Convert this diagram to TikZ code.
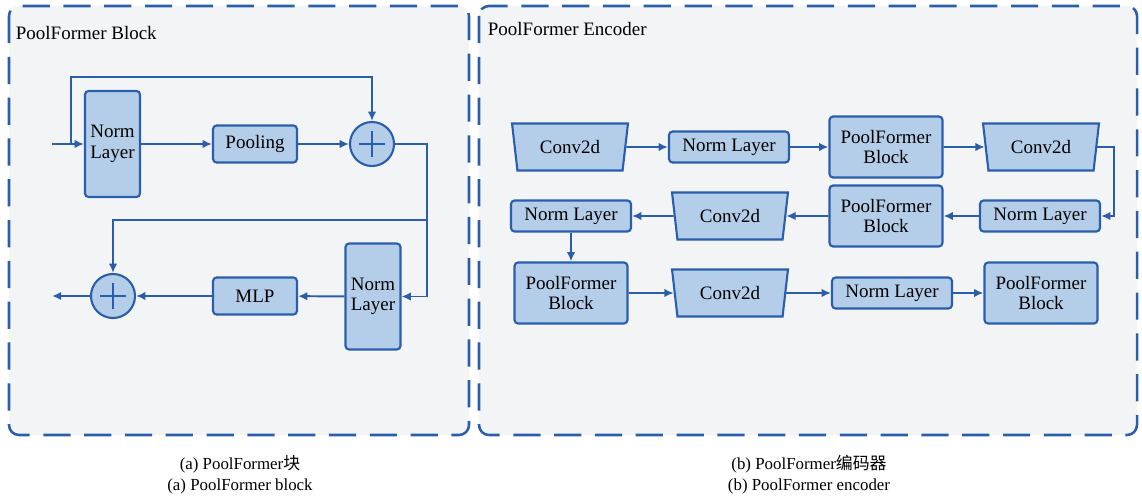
\documentclass[tikz,border=0pt]{standalone}
\usepackage{fontspec}
\setmainfont{Liberation Serif}
\newfontfamily\cjk{Noto Sans CJK SC}
\usetikzlibrary{shapes.geometric,arrows.meta}
\definecolor{boxfill}{RGB}{180,206,234}
\definecolor{boxline}{RGB}{42,94,172}
\definecolor{panelfill}{RGB}{243,244,246}

\begin{document}
\begin{tikzpicture}[x=0.025cm, y=-0.025cm,
	panel/.style={draw=boxline, fill=panelfill, line width=1.8pt, rounded corners=0.25cm, dash pattern=on 0.68cm off 0.34cm},
	blk/.style={draw=boxline, fill=boxfill, line width=1.5pt, rounded corners=0.09cm, align=center, inner sep=0pt, font=\fontsize{13.5pt}{14.5pt}\selectfont},
	tallbox/.style={blk, minimum width=1.375cm, minimum height=2.65cm},
	opbox/.style={blk, minimum width=2.1cm, minimum height=0.925cm},
	normbox/.style={blk, minimum width=3cm, minimum height=0.775cm},
	pfbox/.style={blk, minimum width=2.825cm, minimum height=1.525cm},
	convbox/.style={blk, rounded corners=0pt, trapezium, trapezium stretches=true, shape border rotate=180, trapezium angle=77, minimum width=2.9cm, minimum height=1.175cm},
	addop/.style={circle, draw=boxline, fill=boxfill, line width=1.5pt, minimum size=1.1cm, inner sep=0pt,
		path picture={\draw[boxline, line width=1.5pt] ([xshift=0.22cm]path picture bounding box.west) -- ([xshift=-0.22cm]path picture bounding box.east)
			([yshift=-0.22cm]path picture bounding box.north) -- ([yshift=0.22cm]path picture bounding box.south);}},
	link/.style={draw=boxline, line width=1.4pt, -{Latex[length=2.3mm,width=2.1mm]}},
	label/.style={font=\fontsize{13.5pt}{14.5pt}\selectfont, inner sep=4pt},
	caption/.style={font=\fontsize{12pt}{15pt}\selectfont, align=center},
]
	\useasboundingbox (0,0) rectangle (1142,498);
	% Panels
	\draw[panel] (9,6) rectangle (469,435);
	\draw[panel] (479,6) rectangle (1137,435);
	\node[label, anchor=west] (titleA) at (10,33) {PoolFormer Block};
	\node[label, anchor=west] (titleB) at (482,29) {PoolFormer Encoder};

	% PoolFormer block
	\node[tallbox] (nlA) at (112.5,144) {Norm\\Layer};
	\node[opbox] (pool) at (255,144) {Pooling};
	\node[addop] (addA) at (372,144) {};
	\node[tallbox] (nlB) at (373,296.5) {Norm\\Layer};
	\node[opbox] (mlp) at (255,296) {MLP};
	\node[addop] (addB) at (113,296) {};
	\coordinate (in) at (52,144);
	\coordinate (split) at (71,144);
	\coordinate (skip) at (71,77);
	\coordinate (bend) at (427,220);
	\coordinate (out) at (52,296);
	\draw[link] (in) -- (nlA);
	\draw[link] (split) -- (skip) -| (addA.north);
	\draw[link] (nlA) -- (pool);
	\draw[link] (pool) -- (addA);
	\draw[link] (addA.east) -| (bend) |- (nlB.east);
	\draw[link] (bend) -| (addB.north);
	\draw[link] (nlB) -- (mlp);
	\draw[link] (mlp) -- (addB);
	\draw[link] (addB) -- (out);

	% PoolFormer encoder
	\node[convbox] (cvA) at (570,147) {Conv2d};
	\node[normbox] (nlC) at (729,147) {Norm Layer};
	\node[pfbox] (pfA) at (886,147) {PoolFormer\\Block};
	\node[convbox] (cvB) at (1041,147) {Conv2d};
	\node[normbox] (nlD) at (1040,216) {Norm Layer};
	\node[pfbox] (pfB) at (886,216) {PoolFormer\\Block};
	\node[convbox] (cvC) at (730,216) {Conv2d};
	\node[normbox] (nlE) at (571,216) {Norm Layer};
	\node[pfbox] (pfC) at (571,293) {PoolFormer\\Block};
	\node[convbox] (cvD) at (730,293) {Conv2d};
	\node[normbox] (nlF) at (892,293) {Norm Layer};
	\node[pfbox] (pfD) at (1041,293) {PoolFormer\\Block};
	\coordinate (turn) at (1114,180);
	\draw[link] (cvA) -- (nlC);
	\draw[link] (nlC) -- (pfA);
	\draw[link] (pfA) -- (cvB);
	\draw[link] (cvB.east) -| (turn) |- (nlD.east);
	\draw[link] (nlD) -- (pfB);
	\draw[link] (pfB) -- (cvC);
	\draw[link] (cvC) -- (nlE);
	\draw[link] (nlE) -- (pfC);
	\draw[link] (pfC) -- (cvD);
	\draw[link] (cvD) -- (nlF);
	\draw[link] (nlF) -- (pfD);

	% Captions
	\node[caption] (capA) at (240,475) {(a) PoolFormer{\cjk 块}\\(a) PoolFormer block};
	\node[caption] (capB) at (809,475) {(b) PoolFormer{\cjk 编码器}\\(b) PoolFormer encoder};
\end{tikzpicture}
\end{document}
